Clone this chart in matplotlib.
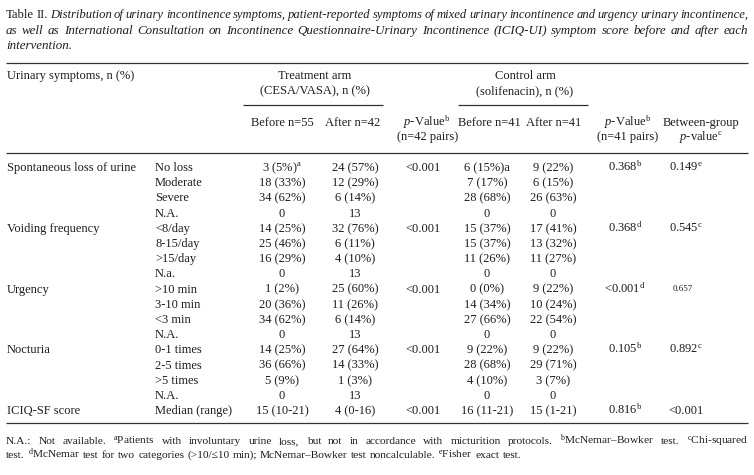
import matplotlib
matplotlib.use('Agg')
import matplotlib.pyplot as plt

# table content
symptoms = ["Spontaneous loss of urine", "Voiding frequency", "Urgency", "Nocturia", "ICIQ-SF score"]
categories = [["No loss", "Moderate", "Severe", "N.A."],
              ["<8/day", "8-15/day", ">15/day", "N.a."],
              [">10 min", "3-10 min", "<3 min", "N.A."],
              ["0-1 times", "2-5 times", ">5 times", "N.A."],
              ["Median (range)"]]
treat_before = [r"3 (5%)$^\mathrm{a}$", "18 (33%)", "34 (62%)", "0",
                "14 (25%)", "25 (46%)", "16 (29%)", "0",
                "1 (2%)", "20 (36%)", "34 (62%)", "0",
                "14 (25%)", "36 (66%)", "5 (9%)", "0",
                "15 (10-21)"]
treat_after = ["24 (57%)", "12 (29%)", "6 (14%)", "13",
               "32 (76%)", "6 (11%)", "4 (10%)", "13",
               "25 (60%)", "11 (26%)", "6 (14%)", "13",
               "27 (64%)", "14 (33%)", "1 (3%)", "13",
               "4 (0-16)"]
ctrl_before = ["6 (15%)a", "7 (17%)", "28 (68%)", "0",
               "15 (37%)", "15 (37%)", "11 (26%)", "0",
               "0 (0%)", "14 (34%)", "27 (66%)", "0",
               "9 (22%)", "28 (68%)", "4 (10%)", "0",
               "16 (11-21)"]
ctrl_after = ["9 (22%)", "6 (15%)", "26 (63%)", "0",
              "17 (41%)", "13 (32%)", "11 (27%)", "0",
              "9 (22%)", "10 (24%)", "22 (54%)", "0",
              "9 (22%)", "29 (71%)", "3 (7%)", "0",
              "15 (1-21)"]
p_treat = ["<0.001", "<0.001", "<0.001", "<0.001", "<0.001"]
p_ctrl = [r"0.368$^\mathrm{b}$", r"0.368$^\mathrm{d}$", r"<0.001$^\mathrm{d}$", r"0.105$^\mathrm{b}$", r"0.816$^\mathrm{b}$"]
p_between = [r"0.149$^\mathrm{e}$", r"0.545$^\mathrm{c}$", "0.657", r"0.892$^\mathrm{c}$", "<0.001"]

title_lines = [
    "Table II. Distribution of urinary incontinence symptoms, patient-reported symptoms of mixed urinary incontinence and urgency urinary incontinence,",
    "as well as International Consultation on Incontinence Questionnaire-Urinary Incontinence (ICIQ-UI) symptom score before and after each",
    "intervention.",
]
foot_lines = [
    r"N.A.: Not available. $^\mathrm{a}$Patients with involuntary urine loss, but not in accordance with micturition protocols. $^\mathrm{b}$McNemar–Bowker test. $^\mathrm{c}$Chi-squared",
    r"test. $^\mathrm{d}$McNemar test for two categories (>10/≤10 min); McNemar–Bowker test noncalculable. $^\mathrm{e}$Fisher exact test.",
]

FAM = ['Liberation Serif', 'DejaVu Serif']
INK = '#1e1e1e'
FS = 9.0
plt.rcParams['mathtext.fontset'] = 'custom'
plt.rcParams['mathtext.rm'] = 'Liberation Serif'
plt.rcParams['mathtext.it'] = 'Liberation Serif:italic'
plt.rcParams['mathtext.bf'] = 'Liberation Serif:bold'

fig = plt.figure(figsize=(7.54, 4.75), dpi=100)
ax = fig.add_axes([0, 0, 1, 1])
ax.set_xlim(0, 754)
ax.set_ylim(475, 0)
ax.axis('off')
renderer = fig.canvas.get_renderer()


def put(x, y, s, ha='center', size=FS, style='normal'):
    return ax.text(x, y + 4, s, ha=ha, va='baseline', fontsize=size,
                   fontstyle=style, family=FAM, color=INK)


def justify(line, y, size, style_of, x0=6, x1=748, last=False, min_gap=2.5):
    words = line.split(' ')
    txts = [put(0, y, w, ha='left', size=size, style=style_of(i)) for i, w in enumerate(words)]
    widths = [t.get_window_extent(renderer).width for t in txts]
    need = sum(widths) + min_gap * (len(words) - 1)
    if not last and need > x1 - x0:
        # shrink the line a little so it fits
        size = size * (x1 - x0) / need
        for t in txts:
            t.set_fontsize(size)
        widths = [t.get_window_extent(renderer).width for t in txts]
    if last or len(words) < 2:
        gap = size * 0.27 * 100 / 72
    else:
        gap = (x1 - x0 - sum(widths)) / (len(words) - 1)
    x = x0
    for t, w in zip(txts, widths):
        t.set_x(x)
        x += w + gap


def rule(y, x0=6, x1=748):
    ax.plot([x0, x1], [y, y], color='#333333', lw=0.9, solid_capstyle='butt')


# title
for k, line in enumerate(title_lines):
    justify(line, [14, 30, 45][k], 9.4,
            lambda i, k=k: 'normal' if (k == 0 and i < 2) else 'italic',
            last=(k == 2))

# header
rule(62.5)
put(7, 75, "Urinary symptoms, n (%)", ha='left')
put(315, 75, "Treatment arm")
put(315, 90, "(CESA/VASA), n (%)")
rule(105, 243, 383)
put(282, 122, "Before n=55")
put(353, 122, "After n=42")
put(427, 122, r"$p$-Value$^\mathrm{b}$")
put(428, 136, "(n=42 pairs)")
put(525, 75, "Control arm")
put(525, 90, "(solifenacin), n (%)")
rule(105, 458, 588)
put(489, 122, "Before n=41")
put(554, 122, "After n=41")
put(628, 122, r"$p$-Value$^\mathrm{b}$")
put(628, 136, "(n=41 pairs)")
put(701, 122, "Between-group")
put(701, 136, r"$p$-value$^\mathrm{c}$")
rule(152.5)

# body
y0, dy = 167, 15.2
row = 0
for g, sym in enumerate(symptoms):
    yg = y0 + row * dy
    put(7, yg, sym, ha='left')
    put(423, yg, p_treat[g])
    put(625, yg, p_ctrl[g])
    if p_between[g] == "0.657":
        put(683, yg - 1.5, p_between[g], size=6.5)
    else:
        put(686, yg, p_between[g])
    for cat in categories[g]:
        y = y0 + row * dy
        put(155, y, cat, ha='left')
        put(282, y, treat_before[row])
        put(355, y, treat_after[row])
        put(487, y, ctrl_before[row])
        put(553, y, ctrl_after[row])
        row += 1
rule(423)

# footnotes
for k, line in enumerate(foot_lines):
    justify(line, [440, 454][k], 8.2, lambda i: 'normal', last=(k == 1))

fig.savefig('out.png', dpi=100)
